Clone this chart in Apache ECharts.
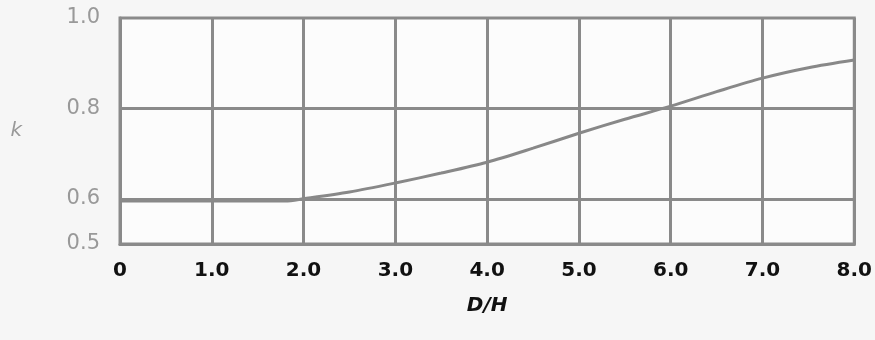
<!DOCTYPE html>
<html>
<head>
<meta charset="utf-8">
<script src="https://cdn.jsdelivr.net/npm/echarts@6/dist/echarts.min.js"></script>
<style>
html,body{margin:0;padding:0;background:#f6f6f6;}
#c{width:875px;height:340px;}
</style>
</head>
<body>
<div id="c"></div>
<script>
// Data
var xValues = [0, 1.0, 1.8, 2.0, 2.5, 3.0, 3.5, 4.0, 4.5, 5.0, 5.5, 6.0, 6.5, 7.0, 7.5, 8.0];
var kValues = [0.595, 0.595, 0.595, 0.6, 0.615, 0.635, 0.657, 0.681, 0.712, 0.745, 0.776, 0.805, 0.837, 0.867, 0.89, 0.907];
var yTickLabels = [0.5, 0.6, 0.8, 1.0];
var yGridValues = [0.6, 0.8];
var xName = 'D/H';
var yName = 'k';

var gray = '#8a8a8a';
var chart = echarts.init(document.getElementById('c'));
var pts = xValues.map(function (x, i) { return [x, kValues[i]]; });

chart.setOption({
  backgroundColor: '#f6f6f6',
  animation: false,
  grid: {
    left: 120, right: 18, top: 18, bottom: 96,
    show: true, backgroundColor: '#fcfcfc',
    borderColor: gray, borderWidth: 3
  },
  xAxis: {
    type: 'value', min: 0, max: 8, interval: 1,
    name: xName, nameLocation: 'middle', nameGap: 52,
    nameTextStyle: { fontFamily: 'DejaVu Sans', fontSize: 20, fontWeight: 'bold', fontStyle: 'italic', color: '#111' },
    axisLine: { show: true, lineStyle: { color: gray, width: 3 } },
    axisTick: { show: false },
    axisLabel: {
      margin: 17,
      fontFamily: 'DejaVu Sans', fontSize: 20, fontWeight: 'bold', color: '#111',
      formatter: function (v) { return v === 0 ? '0' : v.toFixed(1); }
    },
    splitLine: { show: true, lineStyle: { color: gray, width: 3 } }
  },
  yAxis: {
    type: 'value', min: 0.5, max: 1.0, interval: 0.1,
    name: yName, nameLocation: 'middle', nameGap: 98, nameRotate: 0,
    nameTextStyle: { fontFamily: 'DejaVu Sans', fontSize: 20, fontStyle: 'italic', color: '#999', padding: [10, 0, 0, 0] },
    axisLine: { show: true, lineStyle: { color: gray, width: 3 } },
    axisTick: { show: false },
    axisLabel: {
      margin: 20,
      fontFamily: 'DejaVu Sans', fontSize: 21, color: '#999',
      formatter: function (v) {
        var r = Math.round(v * 10) / 10;
        return yTickLabels.indexOf(r) >= 0 ? r.toFixed(1) : '';
      }
    },
    splitLine: { show: false }
  },
  series: [{
    type: 'line',
    data: pts,
    smooth: 0.3,
    showSymbol: false,
    lineStyle: { color: '#888', width: 3 },
    markLine: {
      silent: true, symbol: 'none', label: { show: false },
      lineStyle: { color: gray, width: 3, type: 'solid' },
      data: yGridValues.map(function (v) { return { yAxis: v }; })
    },
    z: 3
  }]
});
</script>
</body>
</html>
